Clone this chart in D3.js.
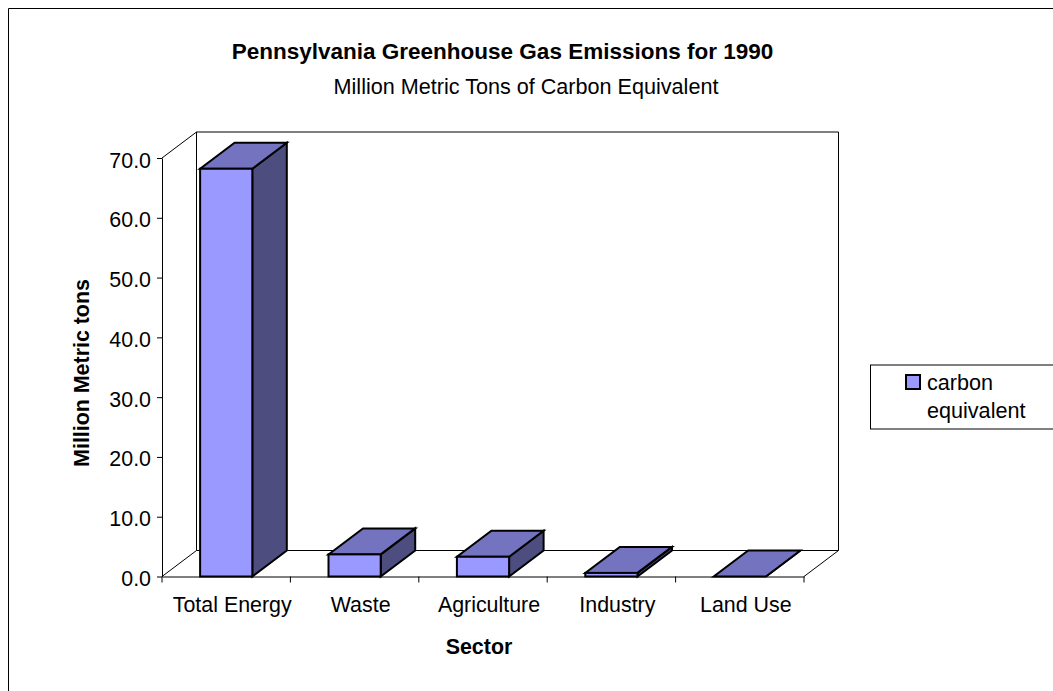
<!DOCTYPE html>
<html>
<head>
  <meta charset="utf-8">
  <script src="https://d3js.org/d3.v7.min.js"></script>
  <style>
    html, body { margin: 0; padding: 0; background: #fff; }
    svg { display: block; }
    text { font-family: 'Liberation Sans', Arial, sans-serif; fill: #000; }
    .tick text { font-size: 21.4px; font-family: 'Liberation Sans', Arial, sans-serif; }
    .axis-title { font-size: 21.4px; font-weight: bold; }
  </style>
</head>
<body>
  <div id="chart"></div>
  <script>
    var sectors = ["Total Energy", "Waste", "Agriculture", "Industry", "Land Use"];
    var carbonEquivalent = [68.2, 3.7, 3.3, 0.6, 0.0];
    var yTicks = [0, 10, 20, 30, 40, 50, 60, 70];

    var width = 1053, height = 691;
    var depthX = 34.5, depthY = -26;

    var svg = d3.select("#chart").append("svg")
      .attr("width", width)
      .attr("height", height);

    // outer chart frame, runs off the right and bottom of the picture
    svg.append("path")
      .attr("d", "M8.5," + height + "V8.5H" + width)
      .attr("fill", "none")
      .attr("stroke", "#000");

    var x = d3.scaleBand()
      .domain(sectors)
      .range([162, 804])
      .paddingInner(0.5935)
      .paddingOuter(0.2968);

    var xEdge = d3.scaleLinear().domain([0, sectors.length]).range([162, 804]);

    var y = d3.scaleLinear().domain([0, 70]).range([576.5, 158]);

    // walls of the 3d box
    var y0 = y(0), yTop = y(70), xL = xEdge.range()[0], xR = xEdge.range()[1];
    var walls = svg.append("g").attr("fill", "none").attr("stroke", "#000");
    walls.append("path")
      .attr("d", `M${xL},${y0}L${xL + depthX},${y0 + depthY}H${xR + depthX}L${xR},${y0}`);
    walls.append("path")
      .attr("d", `M${xL + depthX},${y0 + depthY}V${yTop + depthY}H${xR + depthX}V${y0 + depthY}`);
    walls.append("path")
      .attr("d", `M${xL},${yTop}L${xL + depthX},${yTop + depthY}`);

    // axes
    var yAxis = svg.append("g")
      .attr("transform", "translate(" + xL + ",0)")
      .call(d3.axisLeft(y).tickValues(yTicks).tickSize(5).tickSizeOuter(0).tickPadding(6)
        .tickFormat(d3.format(".1f")));
    yAxis.selectAll("text").attr("dy", "0.42em");

    var xAxis = svg.append("g")
      .attr("transform", "translate(0," + y0 + ")")
      .call(d3.axisBottom(x).tickSize(0).tickPadding(20));
    xAxis.selectAll("text").attr("dx", 6);

    svg.append("g")
      .attr("transform", "translate(0," + y0 + ")")
      .selectAll("line")
      .data(d3.range(sectors.length + 1))
      .enter().append("line")
      .attr("x1", d => xEdge(d)).attr("x2", d => xEdge(d))
      .attr("y1", 0).attr("y2", 6)
      .attr("stroke", "#000");

    svg.selectAll(".domain").attr("stroke", "#000");

    // bars, each one front + side + top
    var bars = svg.append("g")
      .selectAll("g")
      .data(sectors.map((s, i) => ({ sector: s, value: carbonEquivalent[i] })))
      .enter().append("g")
      .attr("stroke", "#000")
      .attr("stroke-width", 2)
      .attr("stroke-linejoin", "miter");

    bars.append("path")
      .attr("fill", "#4d4d80")
      .attr("d", d => {
        var r = x(d.sector) + x.bandwidth(), t = y(d.value);
        return `M${r},${y0}V${t}l${depthX},${depthY}V${y0 + depthY}Z`;
      });

    bars.append("path")
      .attr("fill", "#7373bf")
      .attr("d", d => {
        var l = x(d.sector), t = y(d.value);
        return `M${l},${t}h${x.bandwidth()}l${depthX},${depthY}h${-x.bandwidth()}Z`;
      });

    bars.append("rect")
      .attr("fill", "#9999ff")
      .attr("x", d => x(d.sector))
      .attr("y", d => y(d.value))
      .attr("width", x.bandwidth())
      .attr("height", d => y0 - y(d.value));

    // titles
    svg.append("text")
      .attr("x", 502.5).attr("y", 59)
      .attr("text-anchor", "middle")
      .attr("font-size", 22.5)
      .attr("font-weight", "bold")
      .text("Pennsylvania Greenhouse Gas Emissions for 1990");

    svg.append("text")
      .attr("x", 526).attr("y", 94)
      .attr("text-anchor", "middle")
      .attr("font-size", 21.6)
      .text("Million Metric Tons of Carbon Equivalent");

    svg.append("text")
      .attr("class", "axis-title")
      .attr("x", 479).attr("y", 654)
      .attr("text-anchor", "middle")
      .text("Sector");

    svg.append("text")
      .attr("class", "axis-title")
      .attr("transform", "translate(89,373) rotate(-90)")
      .attr("text-anchor", "middle")
      .text("Million Metric tons");

    // legend
    var legend = svg.append("g");
    legend.append("rect")
      .attr("x", 870.5).attr("y", 365)
      .attr("width", 190).attr("height", 64)
      .attr("fill", "#fff").attr("stroke", "#000");
    legend.append("rect")
      .attr("x", 906).attr("y", 375)
      .attr("width", 14).attr("height", 14)
      .attr("fill", "#9999ff").attr("stroke", "#000").attr("stroke-width", 2);
    legend.append("text")
      .attr("x", 927).attr("y", 390).attr("font-size", 21.6).text("carbon");
    legend.append("text")
      .attr("x", 927).attr("y", 418).attr("font-size", 21.6).text("equivalent");
  </script>
</body>
</html>
